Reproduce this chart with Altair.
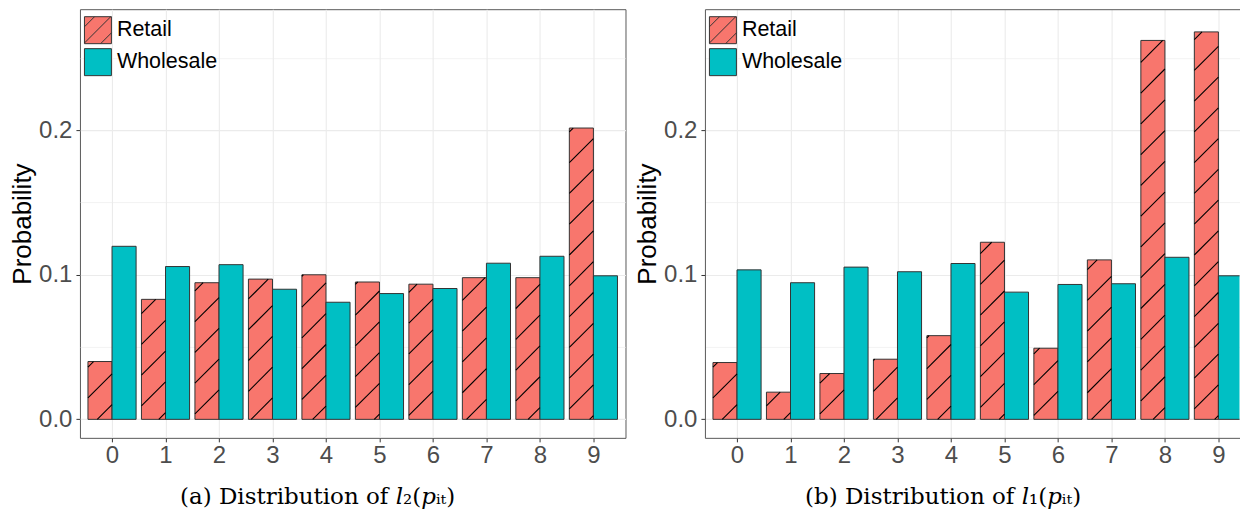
import altair as alt
import pandas as pd
import numpy as np

# ---------------- data ----------------
categories = list(range(10))
series_names = ["Retail", "Wholesale"]
a_retail = [0.040, 0.083, 0.0945, 0.097, 0.100, 0.095, 0.0935, 0.098, 0.098, 0.2015]
a_wholesale = [0.1197, 0.1057, 0.107, 0.090, 0.081, 0.087, 0.0905, 0.108, 0.1128, 0.0993]
b_retail = [0.0393, 0.0188, 0.0317, 0.0416, 0.0579, 0.1225, 0.0492, 0.1103, 0.2621, 0.2680]
b_wholesale = [0.1034, 0.0945, 0.1053, 0.1021, 0.1078, 0.0880, 0.0933, 0.0938, 0.1121, 0.0993]
y_major = [0.0, 0.1, 0.2]
y_minor = [0.05, 0.15, 0.25]
caption_a = "(a) Distribution of 𝑙₂(𝑝ᵢₜ)"
caption_b = "(b) Distribution of 𝑙₁(𝑝ᵢₜ)"

# ---------------- style ----------------
H = 429
XMIN = -0.6
SX = 546 / 10.2          # px per category step
YMIN, YMAX = -0.0128, 0.2837
BARW = 0.45
COLORS = ["#F8766D", "#00BFC4"]
SANS = "Liberation Sans"
SERIF = "DejaVu Serif"
BORDER = "#595959"
OUTLINE = "#333333"
HATCH_SPACING = 30.8   # px, measured along the vertical
HATCH_PHASE = 397.0    # px
HATCH_SYMBOL = ("M-1,-1L1,-1L1,1L-1,1Z M-1,-0.25L-0.25,-1 M-1,0.95L0.95,-1 "
                "M0.2,1L1,0.2")


def make_df(retail, wholesale):
    rows = []
    for i in categories:
        rows.append({"cat": i, "series": "Retail", "value": retail[i], "none": None})
        rows.append({"cat": i, "series": "Wholesale", "value": wholesale[i], "none": None})
    return pd.DataFrame(rows)


def hatch_df(retail):
    sy = H / (YMAX - YMIN)
    segs = []
    for i, v in zip(categories, retail):
        XL = (i - BARW - XMIN) * SX
        XR = (i - XMIN) * SX
        YT = (YMAX - v) * sy
        YB = (YMAX - 0) * sy
        kmin = int(np.floor((XL + YT - HATCH_PHASE) / HATCH_SPACING)) - 1
        kmax = int(np.ceil((XR + YB - HATCH_PHASE) / HATCH_SPACING)) + 1
        for k in range(kmin, kmax + 1):
            c = HATCH_PHASE + k * HATCH_SPACING
            X1 = max(XL, c - YB)
            X2 = min(XR, c - YT)
            if X2 - X1 > 0.3:
                segs.append({
                    "hx": X1 / SX + XMIN, "hx2": X2 / SX + XMIN,
                    "hy": YMAX - (c - X1) / sy, "hy2": YMAX - (c - X2) / sy,
                })
    return pd.DataFrame(segs)


is_major = "abs(datum.value*10 - round(datum.value*10)) < 0.001"


def panel(retail, wholesale, caption, width, full_border, cap_dx):
    df = make_df(retail, wholesale)
    xmax = XMIN + width / SX
    xs = alt.Scale(domain=[XMIN, xmax], nice=False, zero=False)
    ys = alt.Scale(domain=[YMIN, YMAX], nice=False, zero=False)
    xaxis = alt.Axis(values=categories, format="d", title=None, labelFont=SANS,
                     labelFontSize=24, labelColor="#4D4D4D", tickColor=OUTLINE,
                     tickSize=4, domain=not full_border, domainColor=BORDER,
                     gridColor="#EBEBEB", gridWidth=1.1, labelPadding=2)
    yaxis = alt.Axis(values=y_major + y_minor, labelExpr=f"{is_major} ? format(datum.value, '.1f') : ''",
                     title="Probability", titleFont=SANS, titleFontSize=26,
                     titleFontWeight="normal", titleColor="black", titlePadding=3,
                     labelFont=SANS, labelFontSize=24, labelColor="#4D4D4D",
                     tickColor=OUTLINE, tickSize=4, labelPadding=4,
                     domain=not full_border, domainColor=BORDER,
                     tickOpacity={"condition": {"test": is_major, "value": 1}, "value": 0},
                     gridColor="#EBEBEB",
                     gridWidth={"condition": {"test": is_major, "value": 1.1}, "value": 0.6},
                     labelOverlap=False)
    legend = alt.Legend(orient="none", legendX=4, legendY=7, title=None, padding=0,
                        rowPadding=0, symbolSize=729, labelOffset=5, labelFont=SANS,
                        labelFontSize=21.5, labelColor="black", symbolStrokeColor=OUTLINE,
                        symbolStrokeWidth=1, symbolOpacity=1)
    base = alt.Chart(df).transform_calculate(
        x0=f"datum.cat + (datum.series === 'Retail' ? -{BARW} : 0)",
        x1=f"datum.cat + (datum.series === 'Retail' ? 0 : {BARW})",
    )
    bars = base.mark_bar(stroke=OUTLINE, strokeWidth=1, clip=True).encode(
        x=alt.X("x0:Q", scale=xs, axis=xaxis),
        x2="x1:Q",
        y=alt.Y("value:Q", scale=ys, axis=yaxis),
        y2=alt.datum(0),
        color=alt.Color("series:N", scale=alt.Scale(domain=series_names, range=COLORS),
                        legend=None),
    )
    top_axis = alt.Axis(orient="top", labels=False, ticks=False, grid=False, domain=True,
                        domainColor=BORDER, title=None)
    # legend-only layer: rows have no y value, so no point is drawn
    kx = alt.X("cat:Q", scale=xs, axis=top_axis) if not full_border else alt.X("cat:Q", scale=xs)
    keys = base.mark_point(filled=True, opacity=1, strokeWidth=1).encode(
        x=kx,
        y=alt.Y("none:Q", scale=ys),
        fill=alt.Fill("series:N", scale=alt.Scale(domain=series_names, range=COLORS),
                      legend=legend),
        stroke=alt.Stroke("series:N", scale=alt.Scale(domain=series_names,
                                                      range=[OUTLINE, OUTLINE]),
                          legend=legend),
        shape=alt.Shape("series:N", scale=alt.Scale(domain=series_names,
                                                    range=[HATCH_SYMBOL, "square"]),
                        legend=legend),
    )
    hx = alt.X("hx:Q", scale=xs, axis=None) if not full_border else alt.X("hx:Q", scale=xs)
    hatch = alt.Chart(hatch_df(retail)).mark_rule(color="black", strokeWidth=1.1,
                                                  clip=True).encode(
        x=hx, x2="hx2:Q",
        y=alt.Y("hy:Q", scale=ys), y2="hy2:Q",
    )
    layer = alt.layer(bars, hatch, keys).properties(
        width=width, height=H,
        view=alt.ViewBackground(stroke=BORDER if full_border else "transparent",
                                strokeWidth=1),
        title=alt.TitleParams(caption, orient="bottom", anchor="middle", frame="bounds",
                              font=SERIF, fontSize=23, fontWeight="normal",
                              color="black", offset=18, dx=cap_dx),
    )
    if not full_border:
        layer = layer.resolve_axis(x="independent")
    return layer


chart = alt.hconcat(
    panel(a_retail, a_wholesale, caption_a, 546, True, 0),
    panel(b_retail, b_wholesale, caption_b, 535, False, 6),
    spacing=7.5,
).resolve_legend(fill="independent", shape="independent", stroke="independent").properties(
    padding={"left": 1, "top": 0, "right": 0, "bottom": 0}
)

chart.save("out.html", embed_options={"renderer": "svg", "actions": False})
